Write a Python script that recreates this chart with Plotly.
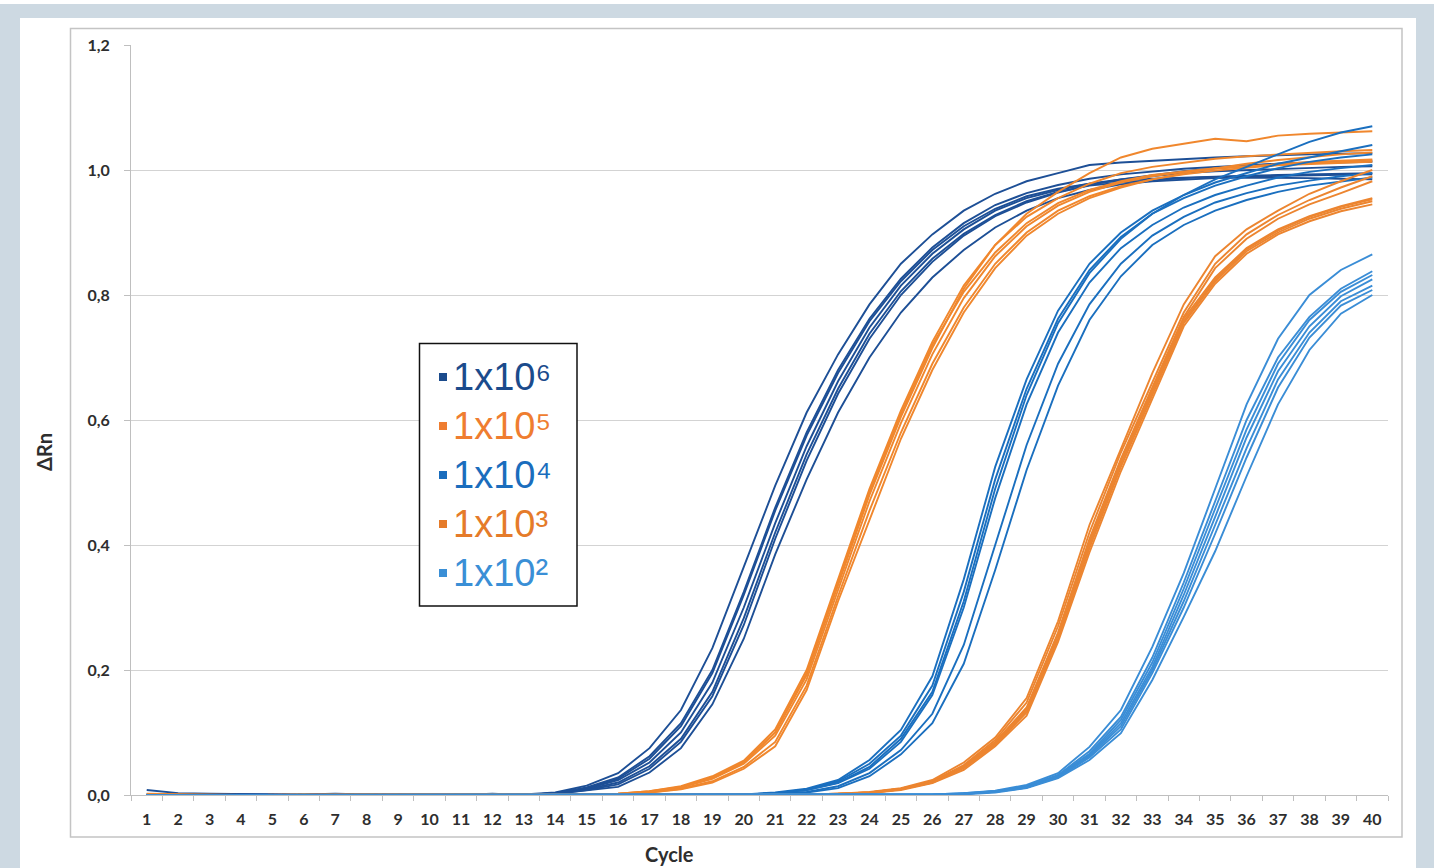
import plotly.graph_objects as go

# ---------------- data ----------------
cycles = ["1", "2", "3", "4", "5", "6", "7", "8", "9", "10",
          "11", "12", "13", "14", "15", "16", "17", "18", "19", "20",
          "21", "22", "23", "24", "25", "26", "27", "28", "29", "30",
          "31", "32", "33", "34", "35", "36", "37", "38", "39", "40"]

dilutions = ["1x10⁶", "1x10⁵", "1x10⁴", "1x10³", "1x10²"]

# 1x10^6 replicates
g6_r1 = [0.008, 0.003, 0.002, 0.001, 0.001, 0.001, 0.002, 0.001, 0.001, 0.001, 0.001, 0.002, 0.001,
         0.004, 0.015, 0.035, 0.075, 0.136, 0.235, 0.365, 0.495, 0.612, 0.705, 0.785, 0.850, 0.897,
         0.935, 0.962, 0.982, 0.995, 1.008, 1.012, 1.015, 1.018, 1.020, 1.022, 1.024, 1.025, 1.026, 1.027]
g6_r2 = [0.001, 0.000, 0.000, 0.001, 0.000, 0.000, 0.001, 0.000, 0.000, 0.000, 0.001, 0.001, 0.000,
         0.003, 0.011, 0.026, 0.058, 0.110, 0.195, 0.320, 0.455, 0.575, 0.675, 0.758, 0.822, 0.872,
         0.910, 0.938, 0.958, 0.970, 0.978, 0.983, 0.986, 0.988, 0.990, 0.991, 0.992, 0.993, 0.994, 0.995]
g6_r3 = [0.000, 0.000, 0.001, 0.000, 0.000, 0.001, 0.000, 0.000, 0.001, 0.000, 0.000, 0.001, 0.000,
         0.003, 0.010, 0.024, 0.052, 0.100, 0.180, 0.300, 0.435, 0.558, 0.662, 0.748, 0.815, 0.866,
         0.905, 0.935, 0.955, 0.968, 0.978, 0.985, 0.990, 0.995, 0.998, 1.000, 1.002, 1.004, 1.005, 1.006]
g6_r4 = [0.001, 0.000, 0.000, 0.000, 0.001, 0.000, 0.000, 0.000, 0.000, 0.001, 0.000, 0.002, 0.000,
         0.002, 0.009, 0.020, 0.046, 0.090, 0.165, 0.283, 0.420, 0.545, 0.650, 0.738, 0.806, 0.858,
         0.898, 0.928, 0.950, 0.965, 0.975, 0.980, 0.984, 0.987, 0.989, 0.990, 0.991, 0.992, 0.992, 0.993]
g6_r5 = [0.000, 0.001, 0.000, 0.000, 0.000, 0.000, 0.001, 0.000, 0.000, 0.000, 0.000, 0.001, 0.001,
         0.002, 0.008, 0.017, 0.042, 0.085, 0.158, 0.272, 0.410, 0.535, 0.642, 0.730, 0.800, 0.853,
         0.895, 0.926, 0.948, 0.964, 0.976, 0.985, 0.992, 0.998, 1.003, 1.007, 1.010, 1.012, 1.014, 1.015]
g6_r6 = [0.000, 0.000, 0.000, 0.001, 0.000, 0.000, 0.000, 0.001, 0.000, 0.000, 0.000, 0.001, 0.000,
         0.002, 0.007, 0.013, 0.036, 0.075, 0.145, 0.250, 0.385, 0.505, 0.612, 0.700, 0.772, 0.828,
         0.872, 0.908, 0.935, 0.955, 0.968, 0.977, 0.982, 0.985, 0.987, 0.988, 0.988, 0.987, 0.986, 0.985]
g6_r7 = [0.001, 0.000, 0.000, 0.000, 0.000, 0.001, 0.000, 0.000, 0.000, 0.000, 0.001, 0.001, 0.000,
         0.003, 0.012, 0.028, 0.062, 0.115, 0.200, 0.325, 0.460, 0.580, 0.680, 0.762, 0.826, 0.876,
         0.915, 0.944, 0.963, 0.976, 0.986, 0.993, 0.998, 1.002, 1.005, 1.008, 1.010, 1.011, 1.012, 1.013]

# 1x10^5 replicates
g5_r1 = [0.002, 0.001, 0, 0, 0, 0, 0, 0, 0, 0, 0, 0, 0, 0, 0.001,
         0.002, 0.006, 0.014, 0.030, 0.055, 0.105, 0.200, 0.345, 0.490, 0.615, 0.725, 0.815, 0.880,
         0.925, 0.955, 0.978, 0.995, 1.005, 1.012, 1.018, 1.022, 1.025, 1.028, 1.030, 1.032]
g5_r2 = [0, 0, 0, 0, 0, 0, 0, 0, 0, 0, 0, 0, 0, 0, 0.001,
         0.002, 0.006, 0.013, 0.028, 0.052, 0.100, 0.192, 0.335, 0.480, 0.605, 0.715, 0.810, 0.880,
         0.930, 0.965, 0.995, 1.020, 1.034, 1.042, 1.050, 1.046, 1.055, 1.058, 1.060, 1.062]
g5_r3 = [0, 0, 0, 0, 0, 0, 0, 0, 0, 0, 0, 0, 0, 0, 0,
         0.001, 0.005, 0.012, 0.026, 0.050, 0.095, 0.185, 0.328, 0.470, 0.595, 0.705, 0.795, 0.862,
         0.910, 0.943, 0.965, 0.980, 0.990, 0.997, 1.002, 1.006, 1.010, 1.013, 1.015, 1.017]
g5_r4 = [0, 0, 0, 0, 0, 0, 0, 0, 0, 0, 0, 0, 0, 0, 0,
         0.001, 0.004, 0.010, 0.022, 0.045, 0.085, 0.175, 0.318, 0.455, 0.580, 0.690, 0.780, 0.850,
         0.900, 0.935, 0.958, 0.974, 0.985, 0.993, 0.999, 1.004, 1.008, 1.011, 1.013, 1.015]
g5_r5 = [0, 0, 0, 0, 0, 0, 0, 0, 0, 0, 0, 0, 0, 0, 0,
         0.001, 0.004, 0.009, 0.020, 0.042, 0.078, 0.168, 0.310, 0.440, 0.570, 0.680, 0.772, 0.843,
         0.895, 0.930, 0.955, 0.972, 0.985, 0.995, 1.003, 1.010, 1.016, 1.021, 1.025, 1.028]
g5_r6 = [0, 0, 0, 0, 0, 0, 0, 0, 0, 0, 0, 0, 0, 0, 0.001,
         0.002, 0.005, 0.013, 0.027, 0.053, 0.100, 0.195, 0.340, 0.485, 0.610, 0.720, 0.805, 0.868,
         0.915, 0.947, 0.968, 0.982, 0.992, 0.998, 1.003, 1.006, 1.008, 1.010, 1.012, 1.013]

# 1x10^4 replicates
g4_r1 = [0, 0, 0, 0, 0, 0, 0, 0, 0, 0, 0, 0, 0, 0, 0, 0, 0, 0, 0,
         0.001, 0.004, 0.010, 0.024, 0.056, 0.104, 0.190, 0.345, 0.525, 0.665, 0.775, 0.850,
         0.900, 0.935, 0.960, 0.980, 0.995, 1.010, 1.020, 1.030, 1.040]
g4_r2 = [0, 0, 0, 0, 0, 0, 0, 0, 0, 0, 0, 0, 0, 0, 0, 0, 0, 0, 0,
         0.001, 0.003, 0.009, 0.022, 0.050, 0.095, 0.175, 0.325, 0.505, 0.650, 0.762, 0.840,
         0.893, 0.930, 0.955, 0.975, 0.990, 1.003, 1.013, 1.020, 1.025]
g4_r3 = [0, 0, 0, 0, 0, 0, 0, 0, 0, 0, 0, 0, 0, 0, 0, 0, 0, 0, 0,
         0.001, 0.003, 0.008, 0.020, 0.045, 0.090, 0.165, 0.310, 0.490, 0.640, 0.755, 0.835,
         0.890, 0.930, 0.960, 0.985, 1.005, 1.025, 1.045, 1.060, 1.070]
g4_r4 = [0, 0, 0, 0, 0, 0, 0, 0, 0, 0, 0, 0, 0, 0, 0, 0, 0, 0, 0,
         0.001, 0.003, 0.008, 0.019, 0.042, 0.085, 0.160, 0.300, 0.475, 0.625, 0.740, 0.820,
         0.875, 0.912, 0.940, 0.960, 0.975, 0.988, 0.997, 1.003, 1.008]
g4_r5 = [0, 0, 0, 0, 0, 0, 0, 0, 0, 0, 0, 0, 0, 0, 0, 0, 0, 0, 0,
         0.000, 0.002, 0.005, 0.014, 0.035, 0.072, 0.130, 0.240, 0.400, 0.560, 0.690, 0.785,
         0.850, 0.895, 0.925, 0.948, 0.963, 0.975, 0.983, 0.990, 0.995]
g4_r6 = [0, 0, 0, 0, 0, 0, 0, 0, 0, 0, 0, 0, 0, 0, 0, 0, 0, 0, 0,
         0.000, 0.001, 0.004, 0.011, 0.030, 0.065, 0.115, 0.210, 0.360, 0.520, 0.655, 0.760,
         0.830, 0.880, 0.912, 0.935, 0.952, 0.965, 0.975, 0.982, 0.988]

# 1x10^3 replicates
g3_r1 = [0, 0, 0, 0, 0, 0, 0, 0, 0, 0, 0, 0, 0, 0, 0, 0, 0, 0, 0, 0, 0,
         0.001, 0.002, 0.005, 0.011, 0.024, 0.052, 0.092, 0.155, 0.278, 0.432, 0.555, 0.675,
         0.785, 0.862, 0.905, 0.935, 0.962, 0.982, 1.000]
g3_r2 = [0, 0, 0, 0, 0, 0, 0, 0, 0, 0, 0, 0, 0, 0, 0, 0, 0, 0, 0, 0, 0,
         0.001, 0.002, 0.004, 0.010, 0.022, 0.048, 0.088, 0.148, 0.270, 0.420, 0.548, 0.660,
         0.772, 0.850, 0.897, 0.928, 0.952, 0.972, 0.990]
g3_r3 = [0, 0, 0, 0, 0, 0, 0, 0, 0, 0, 0, 0, 0, 0, 0, 0, 0, 0, 0, 0, 0,
         0.001, 0.002, 0.004, 0.010, 0.021, 0.046, 0.085, 0.140, 0.260, 0.410, 0.538, 0.652,
         0.765, 0.843, 0.890, 0.922, 0.945, 0.963, 0.982]
g3_r4 = [0, 0, 0, 0, 0, 0, 0, 0, 0, 0, 0, 0, 0, 0, 0, 0, 0, 0, 0, 0, 0,
         0.001, 0.002, 0.004, 0.010, 0.021, 0.045, 0.083, 0.138, 0.258, 0.405, 0.535, 0.648,
         0.762, 0.828, 0.875, 0.905, 0.926, 0.942, 0.955]
g3_r5 = [0, 0, 0, 0, 0, 0, 0, 0, 0, 0, 0, 0, 0, 0, 0, 0, 0, 0, 0, 0, 0,
         0.000, 0.001, 0.003, 0.009, 0.020, 0.043, 0.080, 0.132, 0.250, 0.395, 0.525, 0.640,
         0.755, 0.822, 0.870, 0.900, 0.922, 0.938, 0.950]
g3_r6 = [0, 0, 0, 0, 0, 0, 0, 0, 0, 0, 0, 0, 0, 0, 0, 0, 0, 0, 0, 0, 0,
         0.000, 0.001, 0.003, 0.008, 0.019, 0.040, 0.078, 0.127, 0.245, 0.388, 0.518, 0.635,
         0.750, 0.818, 0.866, 0.897, 0.918, 0.934, 0.945]
g3_r7 = [0, 0, 0, 0, 0, 0, 0, 0, 0, 0, 0, 0, 0, 0, 0, 0, 0, 0, 0, 0, 0,
         0.000, 0.001, 0.003, 0.009, 0.020, 0.044, 0.082, 0.135, 0.255, 0.400, 0.530, 0.644,
         0.758, 0.825, 0.873, 0.903, 0.925, 0.941, 0.953]

# 1x10^2 replicates
g2_r1 = [0, 0, 0, 0, 0, 0, 0, 0, 0, 0, 0, 0, 0, 0, 0, 0, 0, 0, 0, 0, 0, 0, 0, 0, 0,
         0.001, 0.003, 0.007, 0.016, 0.035, 0.077, 0.136, 0.237, 0.355, 0.490, 0.625, 0.730,
         0.800, 0.840, 0.865]
g2_r2 = [0, 0, 0, 0, 0, 0, 0, 0, 0, 0, 0, 0, 0, 0, 0, 0, 0, 0, 0, 0, 0, 0, 0, 0, 0,
         0.001, 0.003, 0.006, 0.014, 0.032, 0.070, 0.125, 0.220, 0.340, 0.470, 0.600, 0.700,
         0.765, 0.810, 0.838]
g2_r3 = [0, 0, 0, 0, 0, 0, 0, 0, 0, 0, 0, 0, 0, 0, 0, 0, 0, 0, 0, 0, 0, 0, 0, 0, 0,
         0.001, 0.002, 0.006, 0.013, 0.031, 0.066, 0.120, 0.212, 0.330, 0.458, 0.585, 0.690,
         0.760, 0.805, 0.832]
g2_r4 = [0, 0, 0, 0, 0, 0, 0, 0, 0, 0, 0, 0, 0, 0, 0, 0, 0, 0, 0, 0, 0, 0, 0, 0, 0,
         0.000, 0.002, 0.005, 0.013, 0.030, 0.064, 0.115, 0.205, 0.320, 0.445, 0.572, 0.678,
         0.750, 0.798, 0.825]
g2_r5 = [0, 0, 0, 0, 0, 0, 0, 0, 0, 0, 0, 0, 0, 0, 0, 0, 0, 0, 0, 0, 0, 0, 0, 0, 0,
         0.000, 0.002, 0.005, 0.012, 0.029, 0.062, 0.110, 0.200, 0.310, 0.432, 0.555, 0.665,
         0.740, 0.790, 0.815]
g2_r6 = [0, 0, 0, 0, 0, 0, 0, 0, 0, 0, 0, 0, 0, 0, 0, 0, 0, 0, 0, 0, 0, 0, 0, 0, 0,
         0.000, 0.002, 0.005, 0.012, 0.028, 0.060, 0.105, 0.195, 0.300, 0.418, 0.540, 0.652,
         0.732, 0.783, 0.808]
g2_r7 = [0, 0, 0, 0, 0, 0, 0, 0, 0, 0, 0, 0, 0, 0, 0, 0, 0, 0, 0, 0, 0, 0, 0, 0, 0,
         0.000, 0.001, 0.004, 0.011, 0.027, 0.056, 0.099, 0.184, 0.285, 0.390, 0.510, 0.625,
         0.712, 0.770, 0.800]

replicates = {
    "1x10⁶": [g6_r1, g6_r2, g6_r3, g6_r4, g6_r5, g6_r6, g6_r7],
    "1x10⁵": [g5_r1, g5_r2, g5_r3, g5_r4, g5_r5, g5_r6],
    "1x10⁴": [g4_r1, g4_r2, g4_r3, g4_r4, g4_r5, g4_r6],
    "1x10³": [g3_r1, g3_r2, g3_r3, g3_r4, g3_r5, g3_r6, g3_r7],
    "1x10²": [g2_r1, g2_r2, g2_r3, g2_r4, g2_r5, g2_r6, g2_r7],
}

y_ticks = [0.0, 0.2, 0.4, 0.6, 0.8, 1.0, 1.2]

# ---------------- styles ----------------
line_colors = {
    "1x10⁶": "#1d4f96",
    "1x10⁵": "#f0872d",
    "1x10⁴": "#1a6fbf",
    "1x10³": "#ec8530",
    "1x10²": "#3a8dd6",
}
legend_colors = {
    "1x10⁶": "#1b4b8c",
    "1x10⁵": "#ef7d30",
    "1x10⁴": "#1a6dbd",
    "1x10³": "#e57b2a",
    "1x10²": "#3a8fd6",
}

W, H = 1434, 868
L, R, T, B = 131, 1388, 45, 795  # plot area in pixels


def px(xp):
    return (xp - L) / (R - L)


def py(yp):
    return (B - yp) / (B - T)


fig = go.Figure()
for name in dilutions:
    for i, vals in enumerate(replicates[name]):
        assert len(vals) == len(cycles), (name, i, len(vals))
        fig.add_trace(go.Scatter(
            x=cycles, y=vals, mode="lines", name=name,
            legendgroup=name, showlegend=False,
            line=dict(color=line_colors[name], width=1.9),
        ))

shapes = [
    # white panel on the blue-grey frame
    dict(type="rect", xref="paper", yref="paper", layer="below",
         x0=px(20), x1=px(1416), y0=py(880), y1=py(18),
         fillcolor="white", line=dict(width=0)),
    dict(type="rect", xref="paper", yref="paper", layer="below",
         x0=px(-10), x1=px(1444), y0=py(4), y1=py(-10),
         fillcolor="white", line=dict(width=0)),
    # chart border
    dict(type="rect", xref="paper", yref="paper", layer="above",
         x0=px(70.5), x1=px(1402), y0=py(837), y1=py(28.5),
         fillcolor="rgba(0,0,0,0)", line=dict(color="#c4c4c4", width=1.5)),
    # legend box
    dict(type="rect", xref="paper", yref="paper", layer="above",
         x0=px(419.5), x1=px(577), y0=py(606), y1=py(343.5),
         fillcolor="white", line=dict(color="#111111", width=1.5)),
]

annotations = []
entry_y = [377, 426, 475, 524, 573]
for name, ey in zip(dilutions, entry_y):
    shapes.append(dict(type="rect", xref="paper", yref="paper", layer="above",
                       x0=px(439), x1=px(447), y0=py(ey + 4), y1=py(ey - 4),
                       fillcolor=legend_colors[name], line=dict(width=0)))
    annotations.append(dict(
        xref="paper", yref="paper", x=px(451), y=py(ey),
        xanchor="left", yanchor="middle", showarrow=False,
        text=name,
        font=dict(family="Liberation Sans", size=38, color=legend_colors[name]),
    ))

annotations.append(dict(
    xref="paper", yref="paper", x=px(669), y=py(854),
    xanchor="center", yanchor="middle", showarrow=False,
    text="Cycle",
    font=dict(family="Lato", size=20, color="#2e2e2e", weight="bold"),
))
annotations.append(dict(
    xref="paper", yref="paper", x=px(44), y=py(452),
    xanchor="center", yanchor="middle", showarrow=False,
    text="ΔRn", textangle=-90,
    font=dict(family="Lato", size=20, color="#2e2e2e", weight="bold"),
))

tick_font = dict(family="Lato", size=16, color="#2e2e2e", weight="bold")

fig.update_layout(
    width=W, height=H,
    margin=dict(l=L, r=W - R, t=T, b=H - B, pad=0),
    paper_bgcolor="#cdd9e2",
    plot_bgcolor="white",
    separators=",.",
    showlegend=False,
    shapes=shapes,
    annotations=annotations,
    xaxis=dict(
        type="category", categoryorder="array", categoryarray=cycles,
        range=[-0.5, 39.5], tickson="boundaries",
        ticks="outside", ticklen=5, tickcolor="#bfbfbf", tickwidth=1,
        showline=True, linecolor="#bfbfbf", linewidth=1,
        showgrid=False, zeroline=False,
        tickfont=tick_font, ticklabelstandoff=10,
    ),
    yaxis=dict(
        range=[0, 1.2], tickmode="array", tickvals=y_ticks, tickformat=".1f",
        ticks="outside", ticklen=6, tickcolor="#bfbfbf", tickwidth=1,
        showline=True, linecolor="#bfbfbf", linewidth=1,
        showgrid=True, gridcolor="#d3d3d3", gridwidth=1, zeroline=False,
        tickfont=tick_font, ticklabelstandoff=11,
    ),
)

fig.write_html(
    "out.html",
    config={"displayModeBar": False},
    post_script="document.body.style.margin='0';document.body.style.padding='0';"
                "document.documentElement.style.margin='0';",
)
